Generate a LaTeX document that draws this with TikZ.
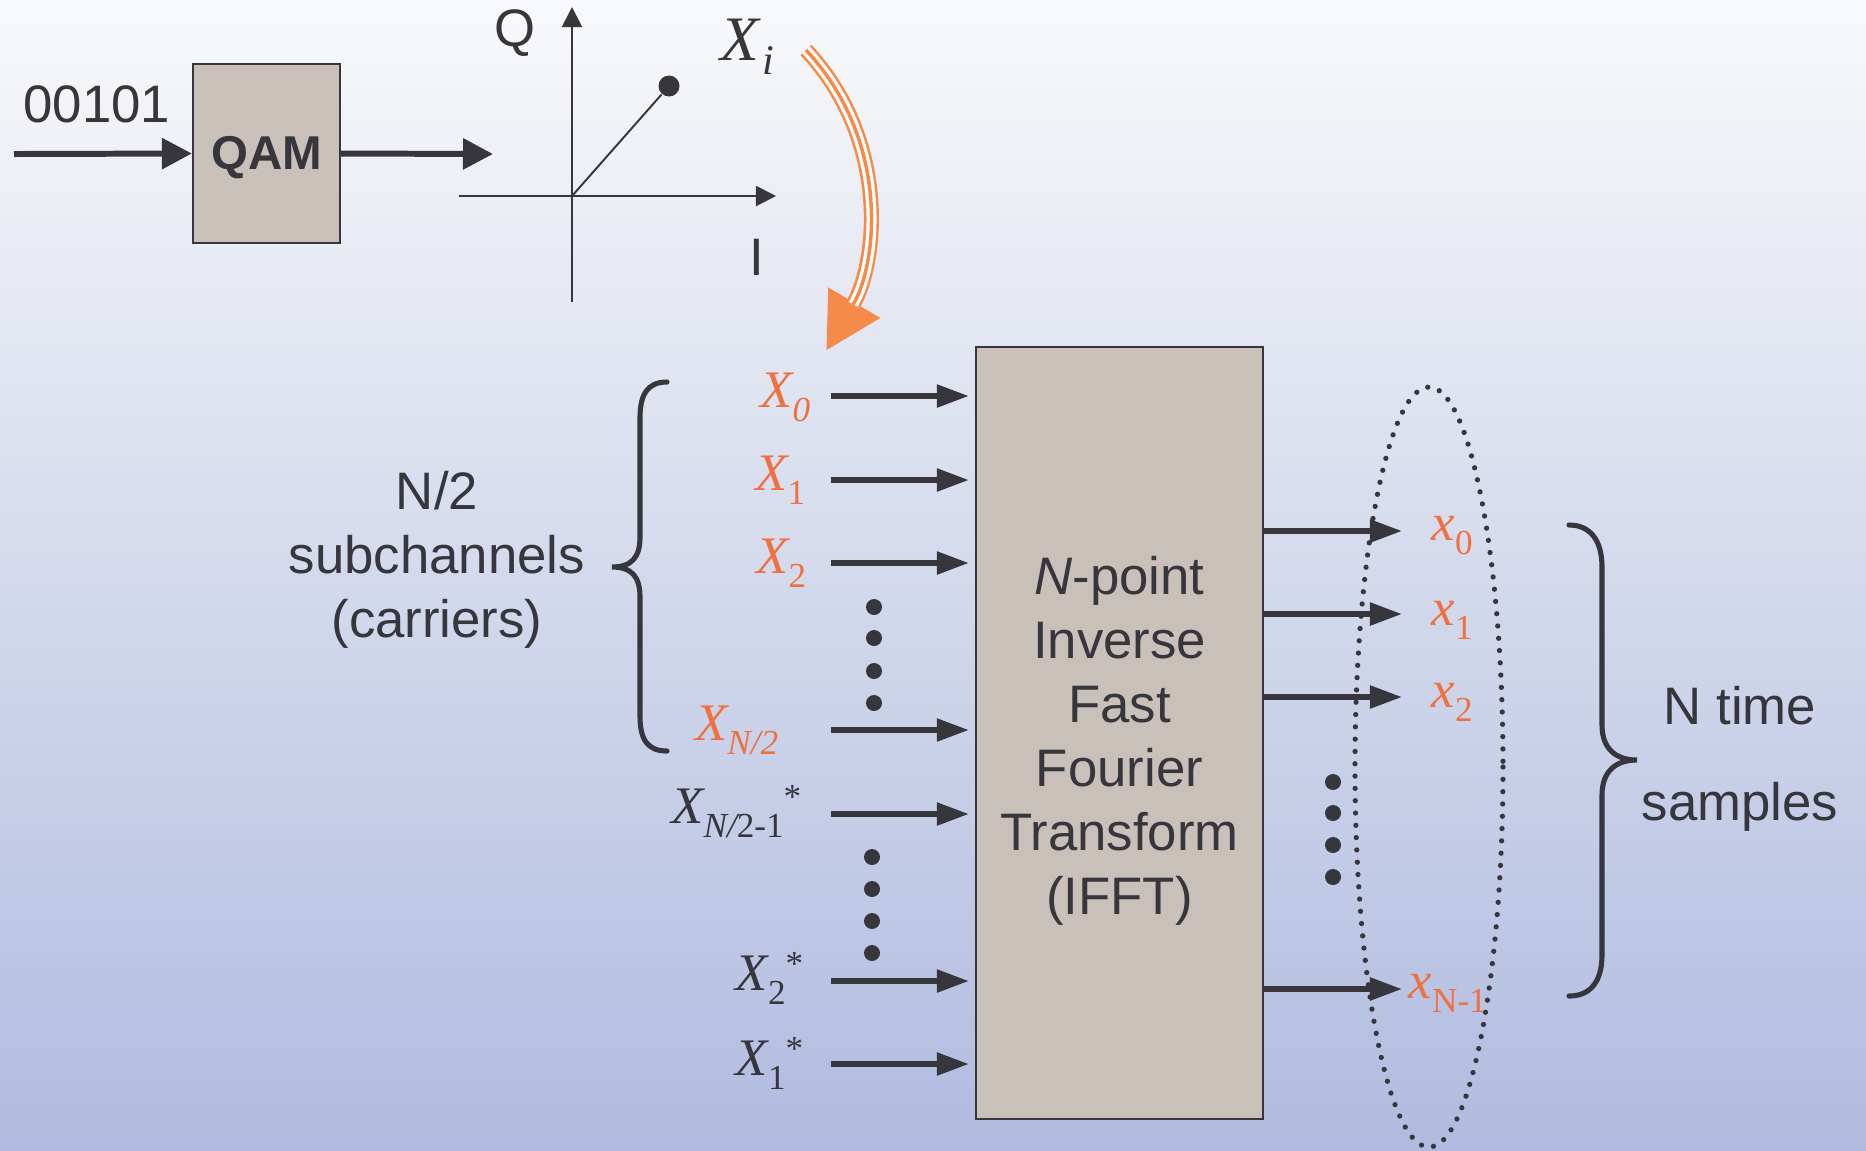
\documentclass[tikz,border=0pt]{standalone}
\usepackage{fontspec}
\setmainfont{Liberation Sans}
\newfontfamily\tms{Liberation Serif}
\usetikzlibrary{arrows.meta}
\definecolor{ink}{HTML}{36363C}
\definecolor{blockfill}{HTML}{C8C0B9}
\definecolor{signal}{HTML}{EF7040}
\definecolor{flow}{HTML}{F58B4B}
\definecolor{bgtop}{HTML}{F8F9FA}
\definecolor{bgmid}{HTML}{D5DBEA}
\definecolor{bgbot}{HTML}{B0BBDF}
% symbol with subscript and superscript, Times style
\newcommand{\sym}[3]{{\tms\itshape #1}\raisebox{-4.2pt}{\tms\fontsize{10}{10}\selectfont #2}\raisebox{4pt}{\tms\fontsize{10}{10}\selectfont #3}}

\begin{document}
\begin{tikzpicture}[x=0.01cm,y=-0.01cm,font=\fontsize{15}{18.2}\selectfont,text=ink,
  block/.style={draw=ink,line width=0.6pt,fill=blockfill,inner sep=0pt},
  feed/.style={ink,line width=1.55pt,-{Triangle[length=3.2mm,width=2.2mm]}},
  bigfeed/.style={ink,line width=1.7pt,-{Triangle[length=3mm,width=3mm]}},
  axis/.style={ink,line width=0.55pt,-{Triangle[length=2mm,width=2mm]}},
  brace/.style={ink,line width=1.45pt,line cap=round},
  lbl/.style={inner sep=0pt}]
  \useasboundingbox (0,0) rectangle (1866,1150);
  \fill[top color=bgtop,middle color=bgmid,bottom color=bgbot] (0,0) rectangle (1866,1150);

  % bits -> QAM -> constellation
  \node[lbl] (bits) at (97,104) {00101};
  \node[block,minimum width=1.47cm,minimum height=1.79cm] (qam) at (266.5,153.5) {};
  \node[lbl,font=\fontsize{13.5}{16}\selectfont\bfseries] (qamlbl) at (267,158) {QAM};
  \coordinate (bitsin) at (14,154);
  \coordinate (qamout) at (493,154);
  \draw[bigfeed] (bitsin) -- (qam.west);
  \draw[bigfeed] (qam.east) -- (qamout);

  \coordinate (origin) at (572,196);
  \coordinate (qtop) at (572,7);
  \coordinate (qbot) at (572,302);
  \coordinate (ileft) at (459,196);
  \coordinate (iright) at (776,196);
  \draw[axis] (qbot) -- (qtop);
  \draw[axis] (ileft) -- (iright);
  \node[lbl] (qlab) at (515,33) {Q};
  \node[lbl] (ilab) at (757,257) {I};
  \node[circle,fill=ink,inner sep=0pt,minimum size=0.21cm] (pt) at (669,86) {};
  \draw[ink,line width=0.55pt] (origin) -- (pt);
  \node[lbl,anchor=base west] (xi) at (720,60) {\fontsize{18}{18}\selectfont\sym{X}{\hspace{1pt}\fontsize{12}{12}\selectfont\itshape i}{}};

  % symbol Xi dropped onto the subcarriers
  \coordinate (dropfrom) at (806,50);
  \coordinate (dropto) at (826,351);
  \draw[flow,line width=4.3pt,-{Triangle[length=5.6mm,width=5.6mm]}] (dropfrom) .. controls (890,140) and (878,262) .. (dropto);
  \draw[white,line width=2.85pt,shorten >=5.4mm] (dropfrom) .. controls (890,140) and (878,262) .. (dropto);
  \draw[flow,line width=1pt,shorten >=5.4mm] (dropfrom) .. controls (890,140) and (878,262) .. (dropto);

  % IFFT block
  \node[block,minimum width=2.87cm,minimum height=7.72cm] (ifft) at (1119.5,733) {};
  \node[lbl,align=center] (ifftlbl) at (1119.5,741)
    {\textit{N}-point\\Inverse\\Fast\\Fourier\\Transform\\(IFFT)};

  % inputs
  \foreach \y/\n in {396/0,480/1,563/2,730/3,814/4,981/5,1064/6} {
    \coordinate (in\n) at (831,\y);
    \draw[feed,shorten >=0.6mm] (in\n) -- (ifft.west |- in\n);
  }
  \node[lbl,anchor=base east,text=signal] (x0) at (811,407) {\sym{X}{\itshape 0}{}};
  \node[lbl,anchor=base east,text=signal] (x1) at (806,490) {\sym{X}{1}{}};
  \node[lbl,anchor=base east,text=signal] (x2) at (807,573) {\sym{X}{2}{}};
  \node[lbl,anchor=base east,text=signal] (xh) at (779,740) {\sym{X}{\itshape N/2}{}};
  \node[lbl,anchor=base east] (xhc) at (802,823) {\sym{X}{\itshape N/\upshape 2-1}{*}};
  \node[lbl,anchor=base east] (x2c) at (804,990) {\sym{X}{2}{*}};
  \node[lbl,anchor=base east] (x1c) at (804,1075) {\sym{X}{1}{*}};
  \foreach \y in {607,638,671,703} \fill[ink] (874,\y) circle[radius=8];
  \foreach \y in {857,889,921,953} \fill[ink] (872,\y) circle[radius=8];

  \draw[brace] (667,382) .. controls (647,382) and (640,395) .. (640,418) -- (640,537)
    .. controls (640,557) and (632,567) .. (612,567) .. controls (632,567) and (640,577) .. (640,597)
    -- (640,716) .. controls (640,739) and (647,751) .. (667,751);
  \node[align=center,inner sep=0pt] (sub) at (437,560) {N/2\\subchannels\\(carriers)};

  % outputs
  \foreach \y/\n in {531/0,614/1,697/2,989/3} {
    \coordinate (out\n) at (1402,\y);
    \draw[feed] (ifft.east |- out\n) -- (out\n);
  }
  \node[lbl,anchor=base west,text=signal] (t0) at (1431,540) {\sym{x}{0}{}};
  \node[lbl,anchor=base west,text=signal] (t1) at (1431,625) {\sym{x}{1}{}};
  \node[lbl,anchor=base west,text=signal] (t2) at (1431,707) {\sym{x}{2}{}};
  \node[lbl,anchor=base west,text=signal] (tn) at (1408,998) {\sym{x}{N-1}{}};
  \foreach \y in {782,813,845,877} \fill[ink] (1333,\y) circle[radius=8];
  \draw[ink,line width=1.5pt,line cap=round,dash pattern=on 0pt off 3.5pt] (1429,767) ellipse[x radius=74,y radius=380];

  \draw[brace] (1569,525) .. controls (1590,525) and (1602,540) .. (1602,567) -- (1602,725)
    .. controls (1602,748) and (1615,760) .. (1637,760) .. controls (1615,760) and (1602,772) .. (1602,795)
    -- (1602,955) .. controls (1602,982) and (1590,996) .. (1569,996);
  \node[align=center,inner sep=0pt] (samp) at (1740,759) {N time\\[9pt]samples};
\end{tikzpicture}
\end{document}
